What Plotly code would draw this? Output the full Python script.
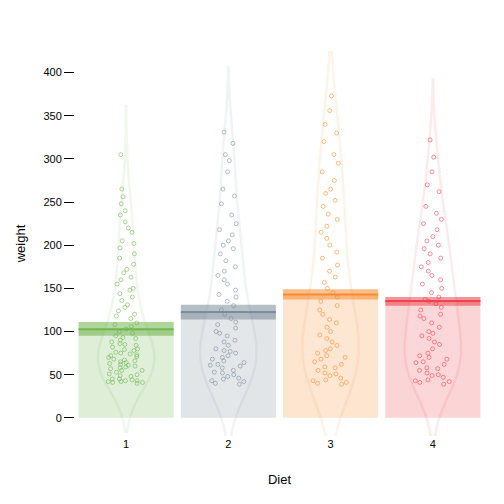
import plotly.graph_objects as go

diets = [1, 2, 3, 4]
weights = {
    1: [42, 41, 43, 42, 40, 41, 43, 44, 45, 48, 49, 51, 53, 55, 57, 58, 59, 61, 62, 64, 65, 66, 68, 70,
        72, 73, 74, 76, 78, 80, 82, 84, 86, 88, 90, 93, 95, 98, 100, 103, 106, 108, 110, 115, 118, 120,
        124, 128, 131, 136, 140, 144, 148, 150, 155, 160, 163, 168, 172, 178, 185, 190, 197, 202, 205,
        215, 220, 227, 235, 240, 248, 256, 265, 305, 45, 50, 55, 60, 63, 67, 71, 75, 79, 85, 92],
    2: [39, 40, 42, 43, 45, 48, 50, 52, 55, 58, 60, 62, 64, 66, 68, 72, 75, 78, 80, 84, 88, 90, 95, 98,
        100, 104, 108, 111, 115, 120, 125, 130, 135, 140, 143, 148, 155, 160, 165, 170, 175, 182, 190,
        196, 200, 205, 212, 218, 225, 235, 248, 257, 265, 285, 298, 305, 318, 331, 46, 53, 61, 70, 77],
    3: [39, 40, 41, 43, 46, 49, 52, 55, 58, 62, 65, 68, 72, 75, 78, 80, 84, 88, 92, 96, 100, 105, 110,
        114, 120, 125, 130, 135, 140, 145, 150, 157, 163, 170, 177, 185, 192, 200, 208, 215, 222, 230,
        236, 245, 252, 260, 265, 275, 285, 295, 305, 320, 330, 340, 356, 373, 44, 51, 59, 70],
    4: [39, 41, 42, 44, 47, 50, 52, 55, 58, 62, 65, 68, 72, 75, 80, 85, 88, 92, 95, 100, 105, 110, 115,
        120, 125, 128, 132, 137, 140, 145, 150, 155, 160, 165, 170, 175, 180, 185, 190, 196, 200, 205,
        210, 218, 225, 230, 237, 245, 262, 270, 285, 302, 322, 43, 49, 57, 64, 70, 98, 118, 135],
}
means = [102.6, 122.6, 142.9, 135.3]
band_low = [95, 114, 137, 130]
band_high = [111, 131, 149, 140]
colors = [(107, 178, 71), (120, 135, 150), (245, 135, 40), (235, 60, 70)]


def rgba(c, a):
    return 'rgba(%d,%d,%d,%s)' % (c[0], c[1], c[2], a)


fig = go.Figure()

# bars for the means
fig.add_trace(go.Bar(x=diets, y=means, width=0.93,
                     marker=dict(color=[rgba(c, 0.22) for c in colors], line=dict(width=0)),
                     hoverinfo='skip'))
# inference bands
fig.add_trace(go.Bar(x=diets, y=[h - l for l, h in zip(band_low, band_high)], base=band_low,
                     width=0.93, marker=dict(color=[rgba(c, 0.55) for c in colors], line=dict(width=0)),
                     hoverinfo='skip'))

for d, c, m in zip(diets, colors, means):
    fig.add_trace(go.Violin(
        x=[d] * len(weights[d]), y=weights[d], width=0.55,
        fillcolor='rgba(255,255,255,0.08)', line=dict(color=rgba(c, 0.1), width=2.5),
        points='all', jitter=0.75, pointpos=0,
        marker=dict(symbol='circle-open', size=4, color=rgba(c, 0.7), line=dict(width=0.8)),
        spanmode='soft', hoveron='points'))
    fig.add_trace(go.Scatter(x=[d - 0.465, d + 0.465], y=[m, m], mode='lines',
                             line=dict(color=rgba(c, 0.9), width=2), hoverinfo='skip'))

fig.update_layout(
    width=504, height=504,
    margin=dict(l=62, r=28, t=43, b=76),
    plot_bgcolor='white', paper_bgcolor='white',
    barmode='overlay', violinmode='overlay', showlegend=False,
    font=dict(family='Arial, Liberation Sans', size=11, color='black'),
)
fig.update_xaxes(range=[0.5, 4.5], tickvals=diets, showgrid=False, zeroline=False,
                 title=dict(text='Diet', standoff=25))
fig.update_yaxes(range=[-21, 425], tickvals=[0, 50, 100, 150, 200, 250, 300, 350, 400],
                 ticks='outside', ticklen=10, tickcolor='black', showgrid=False, zeroline=False,
                 title=dict(text='weight', standoff=14))

fig.write_html('out.html')
